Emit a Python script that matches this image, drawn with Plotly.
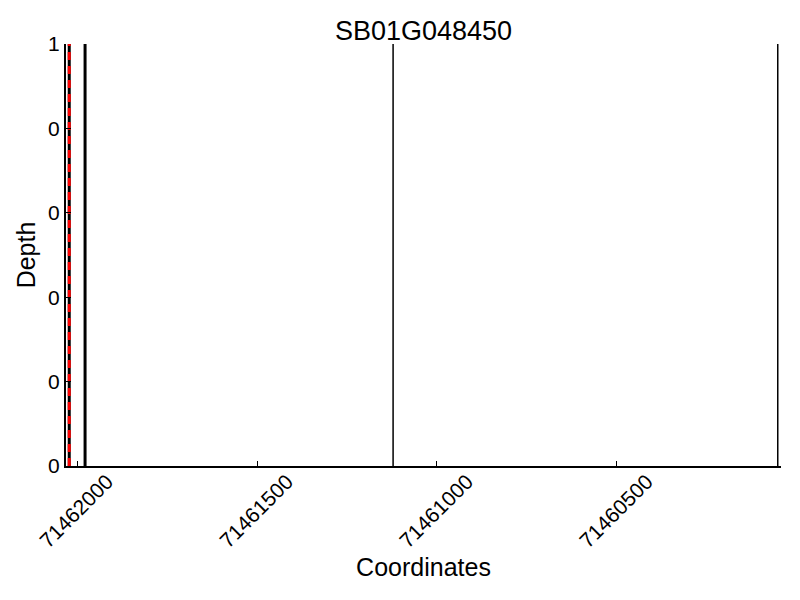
import plotly.graph_objects as go

title = "SB01G048450"
x_range = [71462031, 71460044]
x_ticks = [71462000, 71461500, 71461000, 71460500]
y_ticks = [0, 0.2, 0.4, 0.6, 0.8, 1.0]
y_ticklabels = ["0", "0", "0", "0", "0", "1"]

# vertical markers
solid_thick_x = [71461978]
thin_x = [71461122, 71460053]
dashed_x = [71462022]

fig = go.Figure()
for v in thin_x:
    fig.add_trace(go.Scatter(x=[v, v], y=[0, 1], mode="lines",
                             line=dict(color="black", width=1.5), showlegend=False))
for v in solid_thick_x:
    fig.add_trace(go.Scatter(x=[v, v], y=[0, 1], mode="lines",
                             line=dict(color="black", width=3), showlegend=False))
for v in dashed_x:
    fig.add_trace(go.Scatter(x=[v, v], y=[0, 1], mode="lines",
                             line=dict(color="black", width=3), showlegend=False))
    fig.add_trace(go.Scatter(x=[v, v], y=[0, 1], mode="lines",
                             line=dict(color="red", width=3, dash="8px,6px"), showlegend=False))

font = "Liberation Sans, Arial, sans-serif"
fig.update_layout(
    width=800, height=600,
    margin=dict(l=58, r=27, t=36, b=142, autoexpand=False),
    paper_bgcolor="white", plot_bgcolor="white",
    title=dict(text=title, x=0.5, xref="paper", xanchor="center", y=0.963, yanchor="middle",
               font=dict(family=font, size=27, color="black")),
    font=dict(family=font, color="black"),
    xaxis=dict(range=x_range, tickvals=x_ticks, ticktext=[str(t) for t in x_ticks],
               tickangle=-45, ticks="inside", ticklen=5, tickcolor="black",
               ticklabelshift=-30, ticklabelstandoff=-7,
               showline=True, linecolor="black", linewidth=2, showgrid=False,
               zeroline=False, tickfont=dict(size=21), automargin=False,
               title=dict(text="Coordinates", font=dict(size=25), standoff=7)),
    yaxis=dict(range=[0, 1], tickvals=y_ticks, ticktext=y_ticklabels,
               ticks="inside", ticklen=5, tickcolor="black",
               showline=True, linecolor="black", linewidth=2, showgrid=False,
               zeroline=False, tickfont=dict(size=21), automargin=False,
               title=dict(text="Depth", font=dict(size=25), standoff=5)),
)
fig.write_html("out.html")
